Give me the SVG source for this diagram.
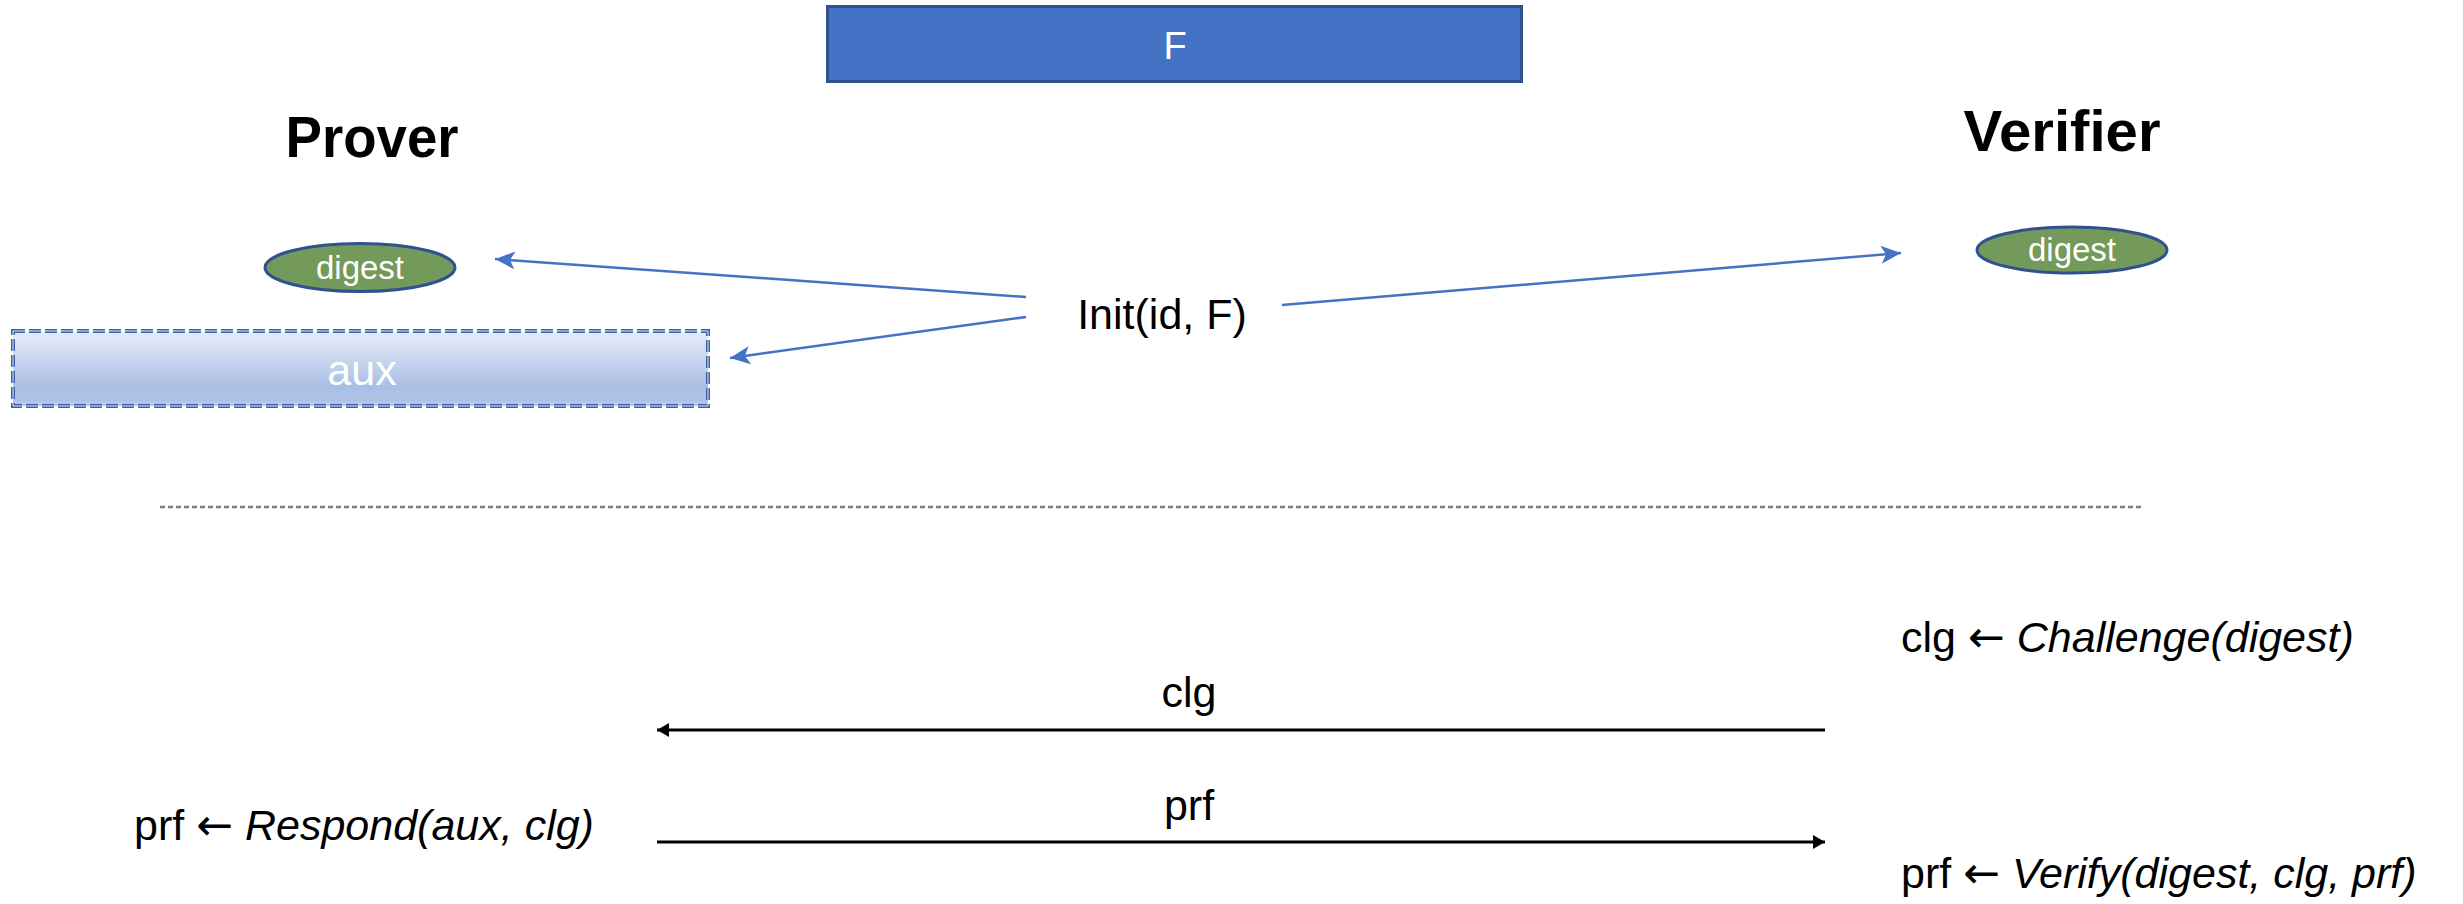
<svg xmlns="http://www.w3.org/2000/svg" width="2463" height="904" viewBox="0 0 2463 904">
  <style>
    .sans { font-family: "Liberation Sans", Arial, sans-serif; }
    .title { font-family: "Liberation Sans", Arial, sans-serif; font-weight: bold; font-size: 58px; fill: #000; }
    .label { font-family: "Liberation Sans", Arial, sans-serif; font-size: 43px; fill: #000; }
    .arrowsym { font-family: "DejaVu Sans", sans-serif; font-size: 44px; }
    .white { fill: #fff; }
    .flow { stroke: #4472C4; stroke-width: 2.5; fill: none; }
    .msg { stroke: #000; stroke-width: 3; fill: none; }
    .digest { fill: #739A5A; stroke: #2F528F; stroke-width: 3; }
  </style>
  <defs>
    <marker id="blueHead" markerUnits="userSpaceOnUse" markerWidth="22" markerHeight="18" refX="20" refY="9" orient="auto">
      <path d="M0,0 L20,9 L0,18 L5,9 Z" fill="#4472C4"/>
    </marker>
    <marker id="blackHead" markerUnits="userSpaceOnUse" markerWidth="14" markerHeight="14" refX="12" refY="7" orient="auto">
      <path d="M0,0 L12,7 L0,14 Z" fill="#000"/>
    </marker>
    <linearGradient id="auxFill" x1="0" y1="0" x2="0" y2="1">
      <stop offset="0" stop-color="#E8EDF7"/>
      <stop offset="0.75" stop-color="#A9BEE5"/>
      <stop offset="1" stop-color="#B3C6E8"/>
    </linearGradient>
  </defs>

  <!-- shared file block -->
  <g id="node-F">
    <rect x="827.5" y="6.5" width="694" height="75" fill="#4472C4" stroke="#2F528F" stroke-width="3"/>
    <text x="1175" y="59" class="sans white" font-size="38" text-anchor="middle">F</text>
  </g>

  <!-- party headings -->
  <g id="node-prover">
    <text x="372" y="157" class="title" text-anchor="middle" textLength="173" lengthAdjust="spacingAndGlyphs">Prover</text>
  </g>
  <g id="node-verifier">
    <text x="2062" y="151" class="title" text-anchor="middle" textLength="197" lengthAdjust="spacingAndGlyphs">Verifier</text>
  </g>

  <!-- prover state -->
  <g id="node-prover-digest">
    <ellipse cx="360" cy="267.5" rx="95" ry="24" class="digest"/>
    <text x="360" y="279" class="sans white" font-size="33" text-anchor="middle">digest</text>
  </g>
  <g id="node-aux">
    <rect x="13" y="331" width="695" height="75" fill="url(#auxFill)"/>
    <rect x="13" y="331" width="695" height="75" fill="none" stroke="#3D62A6" stroke-width="4" stroke-dasharray="12 4"/>
    <rect x="13" y="331" width="695" height="75" fill="none" stroke="#DCE4F3" stroke-width="1" stroke-dasharray="12 4"/>
    <text x="362" y="385" class="sans white" font-size="43" text-anchor="middle">aux</text>
  </g>

  <!-- verifier state -->
  <g id="node-verifier-digest">
    <ellipse cx="2072" cy="250" rx="95" ry="23" class="digest"/>
    <text x="2072" y="261" class="sans white" font-size="33" text-anchor="middle">digest</text>
  </g>

  <!-- setup -->
  <g id="node-init">
    <text x="1162" y="329" class="label" font-size="52" text-anchor="middle">Init(id, F)</text>
  </g>

  <!-- phase separator -->
  <line x1="160" y1="507" x2="2144" y2="507" stroke="#7F7F7F" stroke-width="2.5" stroke-dasharray="5 3"/>

  <!-- challenge / response steps -->
  <g id="node-challenge">
    <text x="1901" y="652" class="label">clg <tspan class="arrowsym">←</tspan> <tspan font-style="italic">Challenge(digest)</tspan></text>
  </g>
  <g id="node-respond">
    <text x="134" y="840" class="label">prf <tspan class="arrowsym">←</tspan> <tspan font-style="italic">Respond(aux, clg)</tspan></text>
  </g>
  <g id="node-verify">
    <text x="1901" y="888" class="label">prf <tspan class="arrowsym">←</tspan> <tspan font-style="italic">Verify(digest, clg, prf)</tspan></text>
  </g>

  <!-- connectors -->
  <g id="connectors">
    <line x1="1026" y1="297" x2="495" y2="259" class="flow" marker-end="url(#blueHead)"/>
    <line x1="1026" y1="317" x2="730" y2="358" class="flow" marker-end="url(#blueHead)"/>
    <line x1="1282" y1="305" x2="1901" y2="253" class="flow" marker-end="url(#blueHead)"/>

    <line x1="1825" y1="730" x2="657" y2="730" class="msg" marker-end="url(#blackHead)"/>
    <text x="1189" y="707" class="label" text-anchor="middle">clg</text>

    <line x1="657" y1="842" x2="1825" y2="842" class="msg" marker-end="url(#blackHead)"/>
    <text x="1189" y="820" class="label" text-anchor="middle">prf</text>
  </g>
</svg>
